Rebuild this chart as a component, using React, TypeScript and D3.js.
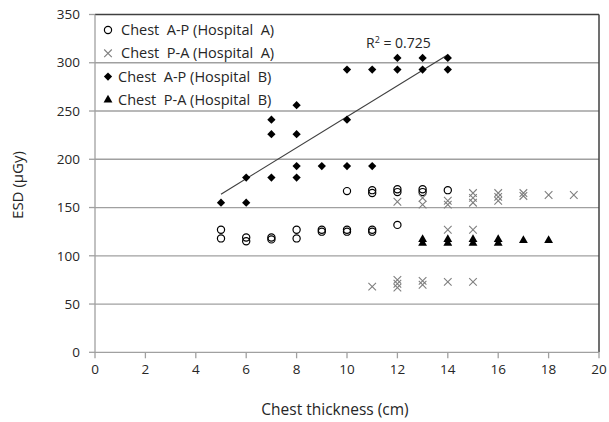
import React from 'react';
import * as d3 from 'd3';

// Hospital A, chest A-P (open circles)
const apHospA: [number, number][] = [
  [5, 127], [5, 118], [6, 119], [6, 115], [7, 117], [7, 119], [8, 127], [8, 118],
  [9, 125], [9, 127], [10, 125], [10, 127], [11, 125], [11, 127], [12, 132],
  [10, 167], [11, 165], [11, 168], [12, 166], [12, 169], [13, 166], [13, 169], [14, 168],
];

// Hospital A, chest P-A (grey crosses)
const paHospA: [number, number][] = [
  [11, 68], [12, 67], [12, 71], [12, 75], [13, 70], [13, 74], [14, 73], [15, 73],
  [12, 156], [13, 153], [13, 160], [14, 153], [14, 157], [14, 127], [15, 127],
  [15, 155], [15, 160], [15, 165], [16, 157], [16, 161], [16, 165], [17, 162], [17, 165],
  [18, 163], [19, 163],
];

// Hospital B, chest A-P (black diamonds)
const apHospB: [number, number][] = [
  [5, 155], [6, 155], [6, 181], [7, 241], [7, 226], [7, 181],
  [8, 256], [8, 226], [8, 193], [8, 181], [9, 193],
  [10, 293], [10, 241], [10, 193], [11, 293], [11, 193],
  [12, 305], [12, 293], [13, 305], [13, 293], [14, 305], [14, 293],
];

// Hospital B, chest P-A (black triangles)
const paHospB: [number, number][] = [
  [13, 113], [13, 117], [14, 113], [14, 117], [15, 113], [15, 117],
  [16, 113], [16, 117], [17, 116], [18, 116],
];

const xTicks = [0, 2, 4, 6, 8, 10, 12, 14, 16, 18, 20];
const yTicks = [0, 50, 100, 150, 200, 250, 300, 350];
const legendLabels = [
  'Chest  A-P (Hospital  A)',
  'Chest  P-A (Hospital  A)',
  'Chest  A-P (Hospital  B)',
  'Chest  P-A (Hospital  B)',
];
const r2Label = '0.725';

const W = 609;
const H = 422;
const FONT = "'Open Sans', sans-serif";
const TXT = '#262626';

const App = () => {
  const x = d3.scaleLinear().domain([0, 20]).range([95, 599]);
  const y = d3.scaleLinear().domain([0, 350]).range([352.3, 14.5]);

  // least squares trend for hospital B A-P
  const mx = d3.mean(apHospB, d => d[0]) as number;
  const my = d3.mean(apHospB, d => d[1]) as number;
  const sxy = d3.sum(apHospB, d => (d[0] - mx) * (d[1] - my));
  const sxx = d3.sum(apHospB, d => (d[0] - mx) ** 2);
  const slope = sxy / sxx;
  const x0 = d3.min(apHospB, d => d[0]) as number;
  const x1 = d3.max(apHospB, d => d[0]) as number;
  const fit = (v: number) => my + slope * (v - mx);

  const tri = d3.symbol(d3.symbolTriangle, 34)() as string;
  const diamond = d3.symbol(d3.symbolSquare, 34)() as string;
  const cross = 'M-3.8,-3.8L3.8,3.8M-3.8,3.8L3.8,-3.8';

  const circleMark = (cx: number, cy: number, key: any) => (
    <circle key={key} cx={cx} cy={cy} r={3.6} fill="none" stroke="#000" strokeWidth={1.2} />
  );
  const crossMark = (cx: number, cy: number, key: any) => (
    <path key={key} d={cross} transform={`translate(${cx},${cy})`} stroke="#7f7f7f" strokeWidth={1.1} fill="none" />
  );
  const diamondMark = (cx: number, cy: number, key: any) => (
    <path key={key} d={diamond} transform={`translate(${cx},${cy}) rotate(45)`} fill="#000" />
  );
  const triMark = (cx: number, cy: number, key: any) => (
    <path key={key} d={tri} transform={`translate(${cx},${cy})`} fill="#000" />
  );

  const markers = [circleMark, crossMark, diamondMark, triMark];

  return (
    <svg width={W} height={H} style={{ position: 'absolute', left: 0, top: 0, background: '#fff' }} fontFamily={FONT}>
      {/* gridlines */}
      {yTicks.filter(t => t > 0 && t < 350).map(t => (
        <line key={t} x1={x(0)} x2={x(20)} y1={y(t)} y2={y(t)} stroke="#a0a0a0" strokeWidth={1.3} />
      ))}
      {/* plot border top/right */}
      <line x1={x(0)} x2={x(20)} y1={y(350)} y2={y(350)} stroke="#404040" strokeWidth={1.5} />
      <line x1={x(20)} x2={x(20)} y1={y(350)} y2={y(0)} stroke="#404040" strokeWidth={1.5} />
      {/* axes */}
      <line x1={x(0)} x2={x(0)} y1={y(350)} y2={y(0)} stroke="#a0a0a0" strokeWidth={1.3} />
      <line x1={x(0)} x2={x(20)} y1={y(0)} y2={y(0)} stroke="#a0a0a0" strokeWidth={1.3} />
      {yTicks.map(t => (
        <g key={t}>
          <line x1={x(0) - 6} x2={x(0)} y1={y(t)} y2={y(t)} stroke="#a0a0a0" strokeWidth={1.3} />
          <text x={80} y={y(t)} dy="0.35em" textAnchor="end" fontSize={13.5} fill={TXT}>{t}</text>
        </g>
      ))}
      {xTicks.map(t => (
        <g key={t}>
          <line x1={x(t)} x2={x(t)} y1={y(0)} y2={y(0) + 6} stroke="#a0a0a0" strokeWidth={1.3} />
          <text x={x(t)} y={369} dy="0.35em" textAnchor="middle" fontSize={13.5} fill={TXT}>{t}</text>
        </g>
      ))}
      <text x={335} y={410} dy="0.35em" textAnchor="middle" fontSize={15.5} fill={TXT} style={{ whiteSpace: 'pre' }}>Chest thickness (cm)</text>
      <text transform="translate(18,185) rotate(-90)" dy="0.35em" textAnchor="middle" fontSize={15} fill={TXT}>ESD (µGy)</text>

      {/* trend line */}
      <line x1={x(x0)} x2={x(x1)} y1={y(fit(x0))} y2={y(fit(x1))} stroke="#404040" strokeWidth={1.2} />
      <text x={366} y={43} dy="0.35em" fontSize={14} fill={TXT}>
        R<tspan dy="-5" fontSize={9}>2</tspan><tspan dy="5"> = {r2Label}</tspan>
      </text>

      {/* data */}
      {apHospA.map((d, i) => circleMark(x(d[0]), y(d[1]), 'a' + i))}
      {paHospA.map((d, i) => crossMark(x(d[0]), y(d[1]), 'b' + i))}
      {apHospB.map((d, i) => diamondMark(x(d[0]), y(d[1]), 'c' + i))}
      {paHospB.map((d, i) => triMark(x(d[0]), y(d[1]), 'd' + i))}

      {/* legend */}
      {legendLabels.map((l, i) => (
        <g key={l} transform={`translate(0,${30 + i * 23.3})`}>
          {markers[i](108, 0, 'm')}
          <text x={i < 2 ? 121 : 118} y={0} dy="0.35em" fontSize={14.5} fill={TXT} style={{ whiteSpace: 'pre' }}>{l}</text>
        </g>
      ))}
    </svg>
  );
};

export default App;
